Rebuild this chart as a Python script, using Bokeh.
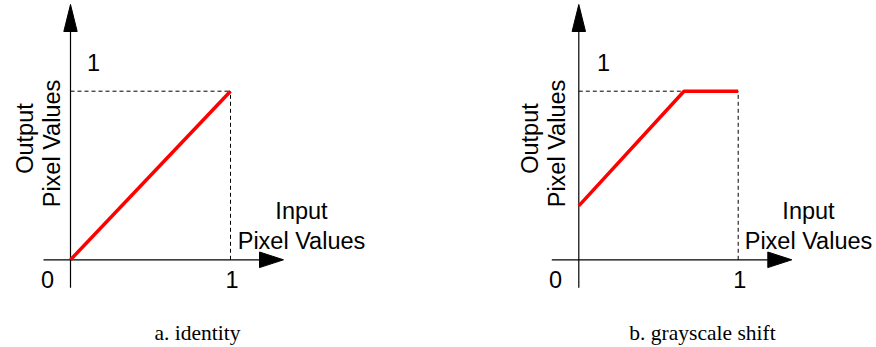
from bokeh.plotting import figure
from bokeh.layouts import row
from bokeh.models import Range1d
from bokeh.core.properties import value
from bokeh.embed import file_html
from bokeh.resources import INLINE

# ---- data ----
identity_x = [0.0, 1.0]
identity_y = [0.0, 1.0]
shift_x = [0.0, 0.66, 1.0]
shift_y = [0.32, 1.0, 1.0]
tick_zero = "0"
tick_one = "1"
x_label = ["Input", "Pixel Values"]
y_label = ["Output", "Pixel Values"]
captions = ["a. identity", "b. grayscale shift"]

SANS = value("Liberation Sans")
SERIF = value("Liberation Serif")
W, H = 438, 347


def panel(xs, ys, caption, ox, sx, sy, oy, top_dx, zero_dx, lab_dx, cap_dx, out_dx):
    # ox: pixel of data-origin from left; oy: pixel of data origin from top
    x0 = -ox / sx
    x1 = (W - ox) / sx
    y1 = oy / sy
    y0 = -(H - oy) / sy
    p = figure(width=W, height=H, x_range=Range1d(x0, x1), y_range=Range1d(y0, y1),
               output_backend="svg", toolbar_location=None,
               x_axis_location=None, y_axis_location=None, min_border=0,
               outline_line_color=None, background_fill_color="white",
               border_fill_color="white")
    p.grid.visible = False

    top = max(ys)
    # dashed guides
    p.line([0, 1], [top, top], line_color="black", line_width=1, line_dash="4 3")
    p.line([1, 1], [0, top], line_color="black", line_width=1, line_dash="4 3")

    # axes with arrows
    ax_start = -27 / sx
    ax_base = 189 / sx
    ax_tip = 213 / sx
    ah = 7.8 / sy
    p.line([ax_start, ax_base], [0, 0], line_color="black", line_width=1.2)
    p.patch([ax_base, ax_tip, ax_base], [-ah, 0, ah], fill_color="black", line_color="black")

    ay_start = -28 / sy
    ay_base = (oy - 31) / sy
    ay_tip = (oy - 4) / sy
    aw = 6.7 / sx
    p.line([0, 0], [ay_start, ay_base], line_color="black", line_width=1.2)
    p.patch([-aw, 0, aw], [ay_base, ay_tip, ay_base], fill_color="black", line_color="black")

    # curve
    p.line(xs, ys, line_color="#ff0000", line_width=3.5)

    fs = "23.5px"
    p.text([top_dx], [197.3 / sy], text=[tick_one], text_font=SANS, text_font_size=fs,
           text_align="center", text_baseline="middle")
    p.text([zero_dx], [-20 / sy], text=[tick_zero], text_font=SANS, text_font_size=fs,
           text_align="center", text_baseline="middle")
    p.text([1.01], [-20 / sy], text=[tick_one], text_font=SANS, text_font_size=fs,
           text_align="center", text_baseline="middle")
    p.text([lab_dx, lab_dx], [49.3 / sy, 19.3 / sy], text=x_label, text_font=SANS,
           text_font_size=fs, text_align="center", text_baseline="middle")
    p.text([out_dx - 46 / sx, out_dx - 19 / sx], [121.3 / sy, 116.3 / sy], text=y_label,
           text_font=SANS, text_font_size=fs, text_align="center", text_baseline="middle",
           angle=1.5707963)
    p.text([cap_dx], [-73 / sy], text=[caption], text_font=SERIF, text_font_size="21.5px",
           text_align="center", text_baseline="middle")
    return p


p1 = panel(identity_x, identity_y, captions[0], ox=70, sx=160, sy=168.6, oy=259.3,
           top_dx=23 / 160, zero_dx=-23 / 160, lab_dx=231 / 160, cap_dx=127 / 160, out_dx=0)
p2 = panel(shift_x, shift_y, captions[1], ox=140.3, sx=159.4, sy=168.6, oy=259.3,
           top_dx=24.7 / 159.4, zero_dx=-23.3 / 159.4, lab_dx=229.7 / 159.4,
           cap_dx=123.7 / 159.4, out_dx=-3 / 159.4)

layout = row(p1, p2)
open("out.html", "w").write(file_html(layout, INLINE))
